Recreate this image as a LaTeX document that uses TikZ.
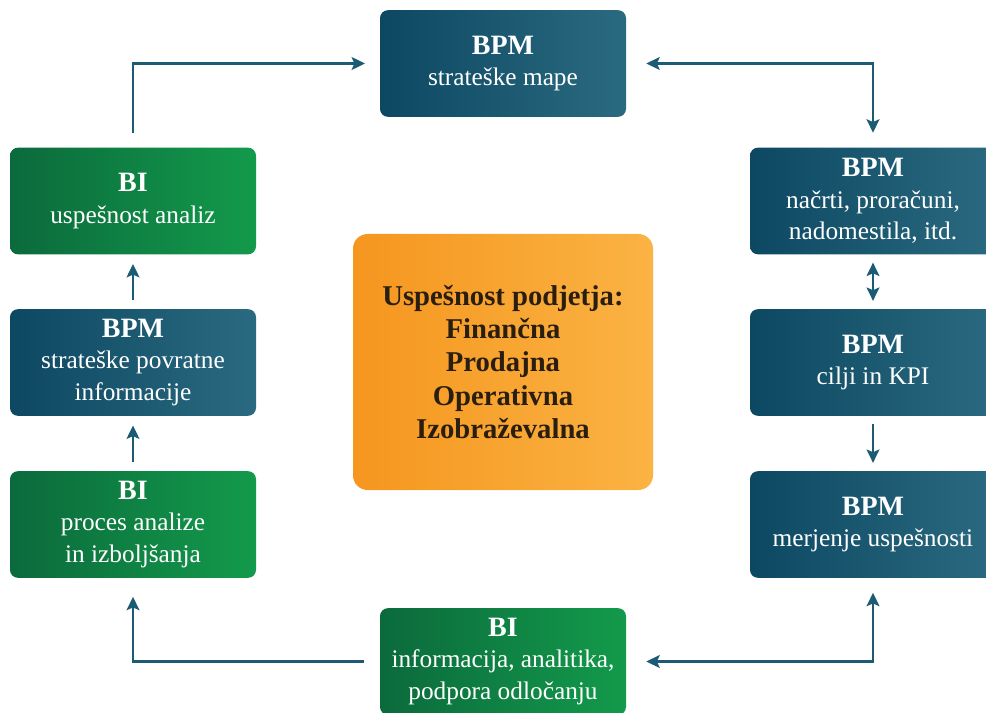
\documentclass[tikz,border=0pt]{standalone}
\usepackage{fontspec}
\setmainfont{Liberation Serif}
\usetikzlibrary{arrows.meta}
\definecolor{bpmleft}{HTML}{0D4862}
\definecolor{bpmright}{HTML}{2A6A80}
\definecolor{bileft}{HTML}{0B6A3C}
\definecolor{biright}{HTML}{139A4B}
\definecolor{uspleft}{HTML}{F5961F}
\definecolor{uspright}{HTML}{FBB343}
\definecolor{linkblue}{HTML}{1C5B74}
\definecolor{usptext}{HTML}{2A1E10}
\newcommand{\boxhead}[1]{{\fontsize{21}{24}\selectfont\bfseries #1}}

\begin{document}
\begin{tikzpicture}[x=0.75pt,y=-0.75pt,
  box/.style={rounded corners=6pt, minimum width=184.5pt, minimum height=80pt,
    inner sep=0pt, align=center, text=white, font=\fontsize{19}{23.5}\selectfont},
  bpmbox/.style={box, left color=bpmleft, right color=bpmright},
  bibox/.style={box, left color=bileft, right color=biright},
  tip/.tip={Stealth[length=10pt,width=9.5pt,inset=2pt]},
  link/.style={draw=linkblue, line width=2.2pt, -tip},
  twolink/.style={link, tip-tip}]
  \useasboundingbox (0,0) rectangle (986,713);

  % top and bottom
  \node[bpmbox] (mape) at (503,63.5) {\boxhead{BPM}\\strateške mape};
  \node[bibox] (odl) at (503,661.5) {\boxhead{BI}\\informacija, analitika,\\podpora odločanju};

  % left column
  \node[bibox] (anal) at (133,201) {\boxhead{BI}\\uspešnost analiz};
  \node[bpmbox] (povr) at (133,362.5) {\boxhead{BPM}\\strateške povratne\\informacije};
  \node[bibox] (izb) at (133,524.5) {\boxhead{BI}\\proces analize\\in izboljšanja};

  % right column
  \node[bpmbox] (nacrt) at (873,201) {\boxhead{BPM}\\načrti, proračuni,\\nadomestila, itd.};
  \node[bpmbox] (kpi) at (873,362.5) {\boxhead{BPM}\\cilji in KPI};
  \node[bpmbox] (merj) at (873,524.5) {\boxhead{BPM}\\merjenje uspešnosti};

  % centre
  \node[rounded corners=11pt, minimum width=225pt, minimum height=192pt, inner sep=0pt,
    left color=uspleft, right color=uspright, text=usptext, align=center,
    font=\fontsize{21.5}{25}\selectfont\bfseries] (usp) at (503,362)
    {Uspešnost podjetja:\\Finančna\\Prodajna\\Operativna\\Izobraževalna};

  % connectors
  \draw[link] ([yshift=11pt]anal.north) |- ([xshift=-11pt]mape.west);
  \draw[twolink] ([xshift=15pt]mape.east) -| ([yshift=11pt]nacrt.north);
  \draw[twolink] ([yshift=-6pt]nacrt.south) -- ([yshift=6pt]kpi.north);
  \draw[link] ([yshift=-6pt]kpi.south) -- ([yshift=6pt]merj.north);
  \draw[twolink] ([xshift=15pt]odl.east) -| ([yshift=-11pt]merj.south);
  \draw[link] ([xshift=-12pt]odl.west) -| ([yshift=-14pt]izb.south);
  \draw[link] ([yshift=7pt]izb.north) -- ([yshift=-7pt]povr.south);
  \draw[link] ([yshift=7pt]povr.north) -- ([yshift=-7pt]anal.south);
\end{tikzpicture}
\end{document}
